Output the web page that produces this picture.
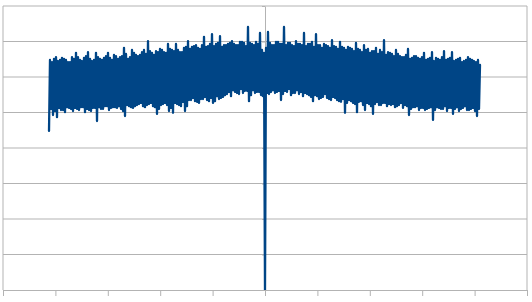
<!DOCTYPE html>
<html>
<head>
<meta charset="utf-8">
<script src="https://cdn.jsdelivr.net/npm/d3@7"></script>
<style>
  body { margin: 0; background: #fff; }
  svg { display: block; }
</style>
</head>
<body>
<div id="chart"></div>
<script>
// signal samples, one per sample step, first sample at index -216 (0 is the centre spike)
const firstSample = -216
const signal = [
  4.48,
  6.48, 5.10, 6.42, 4.93, 6.51, 5.04, 6.56, 4.87, 6.45, 5.13, 6.48, 5.07, 6.54, 5.07, 6.51, 5.01,
  6.48, 5.15, 6.42, 5.13, 6.42, 5.10, 6.56, 5.04, 6.51, 5.13, 6.68, 5.10, 6.56, 5.07, 6.48, 5.15,
  6.45, 5.15, 6.54, 5.01, 6.59, 5.10, 6.70, 5.07, 6.51, 5.04, 6.45, 5.13, 6.48, 5.13, 6.68, 4.76,
  6.56, 5.15, 6.51, 5.10, 6.48, 5.10, 6.54, 5.18, 6.59, 5.18, 6.68, 5.07, 6.54, 5.13, 6.48, 5.15,
  6.62, 5.15, 6.59, 5.13, 6.51, 5.18, 6.56, 5.10, 6.59, 5.04, 6.82, 4.90, 6.65, 5.21, 6.51, 5.18,
  6.56, 5.15, 6.76, 5.13, 6.68, 5.18, 6.62, 5.21, 6.59, 5.24, 6.62, 5.27, 6.70, 5.18, 6.76, 5.15,
  6.65, 5.21, 7.01, 5.24, 6.73, 5.27, 6.68, 5.18, 6.62, 5.15, 6.73, 4.96, 6.70, 5.10, 6.79, 5.21,
  6.76, 5.24, 6.70, 5.27, 6.68, 5.21, 6.93, 5.04, 6.79, 5.13, 6.76, 4.99, 6.73, 5.27, 6.93, 5.24,
  6.76, 5.21, 6.70, 5.18, 6.70, 5.30, 6.82, 5.04, 6.85, 5.18, 7.01, 5.35, 6.79, 5.35, 6.85, 5.41,
  6.87, 5.32, 6.90, 5.30, 6.82, 5.27, 6.79, 5.38, 6.90, 5.38, 7.13, 5.44, 6.85, 5.35, 6.87, 5.32,
  6.93, 5.41, 7.21, 5.27, 6.87, 5.32, 6.93, 5.46, 6.96, 5.38, 7.15, 5.41, 6.85, 5.44, 6.90, 5.49,
  6.90, 5.52, 6.93, 5.58, 6.96, 5.46, 7.01, 5.63, 6.93, 5.58, 6.90, 5.55, 6.90, 5.52, 6.99, 5.66,
  6.99, 5.55, 6.96, 5.61, 6.87, 5.61, 7.41, 5.32, 6.96, 5.49, 6.93, 5.63, 6.90, 5.55, 6.99, 5.58,
  6.93, 5.58, 7.24, 5.49, 6.76, 5.46, 6.68, 0,    6.82, 5.55, 7.27, 5.52, 6.96, 5.58, 6.90, 5.63,
  6.90, 5.55, 6.99, 5.58, 6.99, 5.61, 6.93, 5.35, 6.93, 5.52, 7.41, 5.61, 6.90, 5.58, 6.96, 5.66,
  6.96, 5.49, 6.90, 5.55, 6.87, 5.55, 7.01, 5.63, 6.93, 5.52, 6.93, 5.58, 6.90, 5.46, 7.24, 5.55,
  6.87, 5.52, 6.93, 5.49, 6.93, 5.44, 6.99, 5.32, 6.85, 5.49, 7.21, 5.46, 6.90, 5.38, 6.90, 5.41,
  6.82, 5.44, 6.93, 5.52, 6.90, 5.41, 6.87, 5.38, 6.82, 5.35, 7.04, 5.44, 6.87, 5.41, 6.85, 5.35,
  6.79, 5.32, 6.99, 5.30, 6.85, 5.38, 6.82, 4.99, 6.76, 5.27, 6.85, 5.35, 6.82, 5.32, 6.79, 5.27,
  6.73, 5.24, 6.96, 5.01, 6.79, 5.30, 6.76, 5.32, 6.70, 5.21, 6.90, 5.07, 6.76, 5.27, 6.79, 5.24,
  6.68, 5.18, 6.73, 4.96, 6.73, 5.24, 6.82, 5.30, 6.65, 5.21, 6.76, 5.21, 6.70, 5.27, 7.04, 5.27,
  6.62, 5.18, 6.70, 5.24, 6.68, 5.21, 6.65, 5.24, 6.59, 5.15, 6.76, 5.18, 6.65, 5.21, 6.59, 5.27,
  6.56, 5.13, 6.56, 5.21, 6.62, 5.18, 6.79, 4.93, 6.51, 5.10, 6.54, 5.15, 6.59, 5.15, 6.59, 5.18,
  6.54, 5.07, 6.51, 5.13, 6.56, 5.13, 6.68, 5.07, 6.48, 5.10, 6.51, 5.13, 6.54, 5.15, 6.70, 4.79,
  6.45, 5.07, 6.54, 5.15, 6.51, 5.13, 6.48, 5.10, 6.56, 5.10, 6.73, 5.18, 6.48, 5.04, 6.51, 5.13,
  6.54, 5.13, 6.70, 4.96, 6.45, 5.10, 6.48, 5.15, 6.51, 5.04, 6.54, 5.10, 6.42, 5.13, 6.45, 5.18,
  6.48, 5.07, 6.56, 5.07, 6.51, 5.10, 6.48, 5.13, 6.45, 5.04, 6.42, 4.90,
  6.48, 5.10,
  6.34
]

const yTicks = [0, 1, 2, 3, 4, 5, 6, 7, 8]
const xTicks = [-262, -209.6, -157.2, -104.8, -52.4, 0, 52.4, 104.8, 157.2, 209.6, 262]

const margin = { top: 6, left: 3, right: 5, bottom: 12 }
const width = 532
const height = 302

const svg = d3
  .select('#chart')
  .append('svg')
  .attr('width', width)
  .attr('height', height)

// scales
const xScale = d3
  .scaleLinear()
  .domain([-262, 262])
  .range([margin.left, width - margin.right])

const yScale = d3
  .scaleLinear()
  .domain([0, 8])
  .range([height - margin.bottom, margin.top])

// horizontal grid
svg
  .append('g')
  .selectAll('line')
  .data(yTicks.filter(d => d > 0))
  .enter()
  .append('line')
  .attr('x1', xScale(-262))
  .attr('x2', xScale(262))
  .attr('y1', d => yScale(d))
  .attr('y2', d => yScale(d))
  .attr('stroke', '#b3b3b3')
  .attr('stroke-width', 1)

// plot area sides
svg
  .append('g')
  .selectAll('line')
  .data([-262, 262])
  .enter()
  .append('line')
  .attr('x1', d => xScale(d))
  .attr('x2', d => xScale(d))
  .attr('y1', yScale(8))
  .attr('y2', yScale(0))
  .attr('stroke', '#b3b3b3')

// x axis, ticks only
const xAxis = svg
  .append('g')
  .attr('transform', `translate(0, ${yScale(0)})`)
  .call(
    d3
      .axisBottom(xScale)
      .tickValues(xTicks)
      .tickSizeInner(6)
      .tickSizeOuter(0)
      .tickFormat('')
  )
xAxis.select('.domain').attr('stroke', '#b3b3b3')
xAxis.selectAll('.tick line').attr('stroke', '#b3b3b3')

// y axis through zero
const yAxis = svg
  .append('g')
  .attr('transform', `translate(${xScale(0)}, 0)`)
  .call(
    d3
      .axisLeft(yScale)
      .tickValues(yTicks)
      .tickSizeInner(3)
      .tickSizeOuter(0)
      .tickFormat('')
  )
yAxis.select('.domain').attr('stroke', '#b3b3b3')
yAxis.selectAll('.tick line').attr('stroke', '#b3b3b3')

svg
  .append('clipPath')
  .attr('id', 'plot-clip')
  .append('rect')
  .attr('x', xScale(-262))
  .attr('y', yScale(8) - 2)
  .attr('width', xScale(262) - xScale(-262))
  .attr('height', yScale(0) - yScale(8) + 2)

const line = d3
  .line()
  .x((d, i) => xScale(firstSample + i))
  .y(d => yScale(d))

svg
  .append('path')
  .datum(signal)
  .attr('d', line)
  .attr('clip-path', 'url(#plot-clip)')
  .attr('fill', 'none')
  .attr('stroke', '#004586')
  .attr('stroke-width', 2.3)
  .attr('stroke-linejoin', 'round')
  .attr('stroke-linecap', 'round')
</script>
</body>
</html>
